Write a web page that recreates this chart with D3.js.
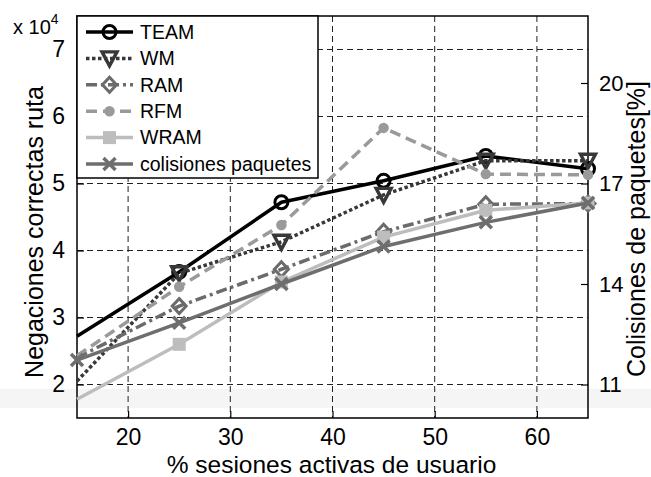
<!DOCTYPE html>
<html>
<head>
<meta charset="utf-8">
<script src="https://cdn.jsdelivr.net/npm/d3@7"></script>
<style>
  html, body { margin: 0; padding: 0; background: #fff; }
  svg { display: block; font-family: "Liberation Sans", Arial, Helvetica, sans-serif; }
</style>
</head>
<body>
<svg id="chart" width="651" height="477"></svg>
<script>
// Session load (% of active user sessions) on the x axis
const sesiones = [15, 25, 35, 45, 55, 65];

// Route-request denials per mechanism (left axis, absolute counts)
const team = [27200, 36800, 47200, 50400, 54100, 52200];
const wm   = [20500, 36600, 41300, 48300, 53400, 53400];
const ram  = [24000, 31700, 37200, 42800, 46900, 47000];
const rfm  = [24300, 34600, 43800, 58300, 51400, 51300];
const wram = [17800, 26000, 35300, 42000, 46000, 47100];

// Packet collisions in percent (right axis)
const colisiones = [11.73, 12.84, 14.0, 15.12, 15.84, 16.42];

// Tick values
const xTicks = [20, 30, 40, 50, 60];
const yLeftTicks = [20000, 30000, 40000, 50000, 60000, 70000];
const yRightTicks = [11, 14, 17, 20];

const svg = d3.select("#chart");
const W = 651;
const m = { left: 77, right: 588, top: 16, bottom: 418 };

const x = d3.scaleLinear().domain([15, 65]).range([m.left, m.right]);
const yL = d3.scaleLinear().domain([15000, 75000]).range([m.bottom, m.top]);
const yR = d3.scaleLinear().domain([10, 22]).range([m.bottom, m.top]);

// Faint pale band behind the lower part of the plot
svg.append("rect").attr("x", 0).attr("y", 389).attr("width", W).attr("height", 19)
  .attr("fill", "#f5f5f5");

// Grid
const grid = svg.append("g").attr("stroke", "#222").attr("stroke-width", 1)
  .attr("stroke-dasharray", "6,4").attr("fill", "none");
xTicks.forEach(t => grid.append("line")
  .attr("x1", x(t)).attr("x2", x(t)).attr("y1", m.top).attr("y2", m.bottom));
yLeftTicks.forEach(t => grid.append("line")
  .attr("x1", m.left).attr("x2", m.right).attr("y1", yL(t)).attr("y2", yL(t)));

// Axes
const gx = svg.append("g").attr("transform", `translate(0,${m.bottom})`)
  .call(d3.axisBottom(x).tickValues(xTicks).tickSizeInner(-7).tickSizeOuter(0).tickPadding(11));
const gyl = svg.append("g").attr("transform", `translate(${m.left},0)`)
  .call(d3.axisLeft(yL).tickValues(yLeftTicks).tickSizeInner(-7).tickSizeOuter(0)
    .tickPadding(12).tickFormat(d => d / 10000));
const gyr = svg.append("g").attr("transform", `translate(${m.right},0)`)
  .call(d3.axisRight(yR).tickValues(yRightTicks).tickSizeInner(-7).tickSizeOuter(0).tickPadding(11));
[gx, gyl, gyr].forEach(g => {
  g.select(".domain").remove();
  g.selectAll(".tick line").attr("stroke", "#000").attr("stroke-width", 1.2);
  g.selectAll(".tick text").attr("font-size", 23).attr("fill", "#000")
    .attr("font-family", "'Liberation Sans', Arial, sans-serif");
});
gyr.selectAll(".tick text").attr("font-size", 22);

// Plot box
svg.append("rect").attr("x", m.left).attr("y", m.top)
  .attr("width", m.right - m.left).attr("height", m.bottom - m.top)
  .attr("fill", "none").attr("stroke", "#000").attr("stroke-width", 1.5);

// Series definitions
const series = [
  { name: "TEAM", values: team, axis: yL, color: "#000000", dash: null, marker: "circle" },
  { name: "WM", values: wm, axis: yL, color: "#383838", dash: "3.5,2.5", marker: "triDown" },
  { name: "RAM", values: ram, axis: yL, color: "#6b6b6b", dash: "11,4,3,4", marker: "diamond" },
  { name: "RFM", values: rfm, axis: yL, color: "#9a9a9a", dash: "11,6", marker: "dot" },
  { name: "WRAM", values: wram, axis: yL, color: "#bdbdbd", dash: null, marker: "square" },
  { name: "colisiones paquetes", values: colisiones, axis: yR, color: "#6e6e6e", dash: null, marker: "cross" }
];

function drawMarker(g, type, cx, cy, color) {
  if (type === "circle") {
    g.append("circle").attr("cx", cx).attr("cy", cy).attr("r", 6.5)
      .attr("fill", "none").attr("stroke", color).attr("stroke-width", 3);
  } else if (type === "triDown") {
    g.append("path").attr("d", `M${cx - 7.5},${cy - 6.5}L${cx + 7.5},${cy - 6.5}L${cx},${cy + 7.5}Z`)
      .attr("fill", "none").attr("stroke", color).attr("stroke-width", 3.4);
  } else if (type === "diamond") {
    g.append("path").attr("d", `M${cx},${cy - 7.5}L${cx + 7},${cy}L${cx},${cy + 7.5}L${cx - 7},${cy}Z`)
      .attr("fill", "none").attr("stroke", color).attr("stroke-width", 3);
  } else if (type === "dot") {
    g.append("circle").attr("cx", cx).attr("cy", cy).attr("r", 4.5)
      .attr("fill", color).attr("stroke", color).attr("stroke-width", 1.5);
  } else if (type === "square") {
    g.append("rect").attr("x", cx - 5.5).attr("y", cy - 5.5).attr("width", 11).attr("height", 11)
      .attr("fill", color).attr("stroke", color).attr("stroke-width", 2);
  } else if (type === "cross") {
    g.append("path").attr("d", `M${cx - 6},${cy - 6}L${cx + 6},${cy + 6}M${cx - 6},${cy + 6}L${cx + 6},${cy - 6}`)
      .attr("fill", "none").attr("stroke", color).attr("stroke-width", 3.5);
  }
}

// Lines and markers; left-axis markers sitting on the left edge are clipped away
const plot = svg.append("g");
series.forEach(s => {
  const line = d3.line().x((d, i) => x(sesiones[i])).y(d => s.axis(d));
  plot.append("path").datum(s.values).attr("d", line)
    .attr("fill", "none").attr("stroke", s.color).attr("stroke-width", 3.5)
    .attr("stroke-dasharray", s.dash).attr("stroke-linejoin", "round");
  const mg = plot.append("g");
  s.values.forEach((v, i) => {
    if (s.axis === yL && sesiones[i] === x.domain()[0]) return;
    drawMarker(mg, s.marker, x(sesiones[i]), s.axis(v), s.color);
  });
});

// Legend
const lg = svg.append("g");
lg.append("rect").attr("x", m.left).attr("y", m.top).attr("width", 241).attr("height", 162)
  .attr("fill", "#fff").attr("stroke", "#000").attr("stroke-width", 1.5);
series.forEach((s, i) => {
  const ly = 32 + i * 26.4;
  lg.append("line").attr("x1", 86).attr("x2", 133).attr("y1", ly).attr("y2", ly)
    .attr("stroke", s.color).attr("stroke-width", 3.5).attr("stroke-dasharray", s.dash);
  drawMarker(lg, s.marker, 109.5, ly, s.color);
  lg.append("text").attr("x", 140).attr("y", ly).attr("dy", "0.35em")
    .attr("font-size", 19.5).attr("fill", "#000").text(s.name);
});

// Exponent label for the left axis
const ex = svg.append("text").attr("x", 13).attr("y", 34).attr("font-size", 20).attr("fill", "#000");
ex.append("tspan").text("x 10");
ex.append("tspan").attr("dy", -10).attr("font-size", 14).text("4");

// Axis titles
svg.append("text").attr("x", (m.left + m.right) / 2 - 1).attr("y", 473)
  .attr("text-anchor", "middle").attr("font-size", 24.5).attr("fill", "#000")
  .text("% sesiones activas de usuario");
svg.append("text").attr("transform", `translate(43,232) rotate(-90)`)
  .attr("text-anchor", "middle").attr("font-size", 25).attr("fill", "#000")
  .text("Negaciones correctas ruta");
svg.append("text").attr("transform", `translate(645,229) rotate(-90)`)
  .attr("text-anchor", "middle").attr("font-size", 25).attr("fill", "#000")
  .text("Colisiones de paquetes[%]");
</script>
</body>
</html>
